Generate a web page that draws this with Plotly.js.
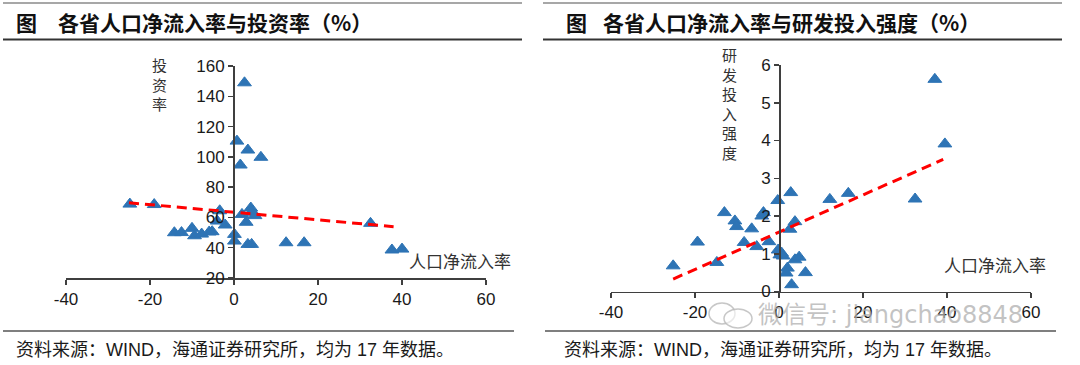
<!DOCTYPE html>
<html>
<head>
<meta charset="utf-8">
<script src="https://cdn.plot.ly/plotly-3.0.1.min.js"></script>
<style>
html,body{margin:0;padding:0;background:#fff;}
#chart{width:1080px;height:365px;}
</style>
</head>
<body>
<div id="chart"></div>
<script>
// ---------- data ----------
const leftTitle = "各省人口净流入率与投资率（%）";
const rightTitle = "各省人口净流入率与研发投入强度（%）";
const footnote = "资料来源：WIND，海通证券研究所，均为 17 年数据。";
const xLabel = "人口净流入率";
const leftYLabel = ["投", "资", "率"];
const rightYLabel = ["研", "发", "投", "入", "强", "度"];

// net inflow rate vs investment rate
const invX = [-24.8, -19, -14.2, -12.5, -10, -9.4, -7.7, -5.9, -5.2, -4, -3.4, -2.1, 0.1, 0.1, 0.7, 1.5, 2.5, 3.3, 6.4, 1.9, 2.9, 4, 4.2, 5, 3.3, 4.2, 12.4, 16.7, 32.5, 37.6, 40];
const invY = [68.8, 68.5, 49.9, 50, 52.8, 47.9, 49, 50.4, 50.6, 57.6, 64.4, 55, 48.8, 44.4, 110.4, 94.6, 148.9, 104.5, 99.7, 62, 56.8, 66.2, 63.4, 61.2, 42.2, 42.2, 43.3, 43.3, 56.1, 38.5, 39.1];
const invTrendX = [-25, 38];
const invTrendY = [69.7, 53.9];

// net inflow rate vs R&D intensity
const rdX = [-25.2, -19.4, -14.8, -13, -10.5, -10.1, -8.3, -6.5, -5.3, -4.1, -3.7, -2.4, -0.3, -0.2, 0.2, 0.6, 1, 2, 1.7, 3, 3.8, 4.8, 6.3, 2.6, 3.8, 2.8, 12.1, 16.5, 32.4, 37.1, 39.5];
const rdY = [0.68, 1.31, 0.77, 2.09, 1.87, 1.72, 1.3, 1.66, 1.19, 2.0, 2.09, 1.32, 2.41, 1.1, 0.97, 1.02, 0.94, 0.62, 0.49, 0.18, 0.84, 0.91, 0.5, 1.65, 1.85, 2.62, 2.44, 2.6, 2.45, 5.62, 3.91];
const rdTrendX = [-25.2, 39.1];
const rdTrendY = [0.33, 3.5];

const xTicks = [-40, -20, 0, 20, 40, 60];
const xTickText = ["-40", "-20", "0", "20", "40", "60"];
const invTicks = [20, 40, 60, 80, 100, 120, 140, 160];
const rdTicks = [0, 1, 2, 3, 4, 5, 6];

// ---------- layout helpers ----------
const W = 1080, H = 365;
const px = v => v / W;
const py = v => 1 - v / H;

const blue = "#2E74B5";
const axisCol = "#3f3f3f";
const cjk = "Noto Sans CJK SC, sans-serif";
const latin = "Liberation Sans, Arial, Noto Sans CJK SC, sans-serif";

const markerStyle = {symbol: "triangle-up", size: 12, color: blue, line: {color: blue, width: 1}};
const trendStyle = {color: "#FF0000", width: 3, dash: "10px,6px"};

const traces = [
  {x: invX, y: invY, xaxis: "x", yaxis: "y", type: "scatter", mode: "markers", marker: markerStyle},
  {x: invTrendX, y: invTrendY, xaxis: "x", yaxis: "y", type: "scatter", mode: "lines", line: trendStyle},
  {x: rdX, y: rdY, xaxis: "x2", yaxis: "y2", type: "scatter", mode: "markers", marker: markerStyle},
  {x: rdTrendX, y: rdTrendY, xaxis: "x2", yaxis: "y2", type: "scatter", mode: "lines", line: trendStyle}
];

const axBase = {
  showgrid: false, zeroline: false, showline: true, linecolor: axisCol, linewidth: 1.5,
  ticks: "outside", ticklen: 5, tickwidth: 1.5, tickcolor: axisCol,
  tickfont: {family: latin, size: 17, color: "#1a1a1a"}, fixedrange: true
};

const layout = {
  width: W, height: H, autosize: false,
  margin: {l: 0, r: 0, t: 0, b: 0},
  paper_bgcolor: "#ffffff", plot_bgcolor: "rgba(0,0,0,0)",
  showlegend: false,
  xaxis: Object.assign({}, axBase, {domain: [px(66), px(486)], range: [-40, 60], tickvals: xTicks, ticktext: xTickText, anchor: "y"}),
  yaxis: Object.assign({}, axBase, {domain: [py(278), py(66)], range: [20, 160], tickvals: invTicks, anchor: "free", position: px(233)}),
  xaxis2: Object.assign({}, axBase, {domain: [px(611), px(1031)], range: [-40, 60], tickvals: xTicks, ticktext: xTickText, anchor: "y2"}),
  yaxis2: Object.assign({}, axBase, {domain: [py(291.5), py(65)], range: [0, 6], tickvals: rdTicks, anchor: "free", position: px(779)}),
  shapes: [
    // left panel rules
    {type: "line", xref: "paper", yref: "paper", x0: px(3), x1: px(522), y0: py(3), y1: py(3), line: {color: "#8a8a8a", width: 1.5}},
    {type: "line", xref: "paper", yref: "paper", x0: px(3), x1: px(522), y0: py(39.5), y1: py(39.5), line: {color: "#333333", width: 2}},
    {type: "line", xref: "paper", yref: "paper", x0: px(3), x1: px(514), y0: py(331), y1: py(331), line: {color: "#7f7f7f", width: 2}},
    // right panel rules
    {type: "line", xref: "paper", yref: "paper", x0: px(543), x1: px(1062), y0: py(3), y1: py(3), line: {color: "#8a8a8a", width: 1.5}},
    {type: "line", xref: "paper", yref: "paper", x0: px(543), x1: px(1062), y0: py(39.5), y1: py(39.5), line: {color: "#333333", width: 2}},
    {type: "line", xref: "paper", yref: "paper", x0: px(545), x1: px(1056), y0: py(331), y1: py(331), line: {color: "#7f7f7f", width: 2}},
    // watermark icon
    {type: "circle", xref: "paper", yref: "paper", x0: px(709), x1: px(735), y0: py(324), y1: py(303), line: {color: "rgba(185,185,185,0.8)", width: 1.5}},
    {type: "circle", xref: "paper", yref: "paper", x0: px(724), x1: px(752), y0: py(328), y1: py(309), line: {color: "rgba(185,185,185,0.8)", width: 1.5}, fillcolor: "rgba(255,255,255,0.6)"}
  ],
  annotations: [
    {xref: "paper", yref: "paper", x: px(14), y: py(21.5), xanchor: "left", yanchor: "middle", showarrow: false,
     text: "<b>图</b>", font: {family: cjk, size: 21, color: "#111"}},
    {xref: "paper", yref: "paper", x: px(56), y: py(21.5), xanchor: "left", yanchor: "middle", showarrow: false,
     text: "<b>" + leftTitle + "</b>", font: {family: cjk, size: 21, color: "#111"}},
    {xref: "paper", yref: "paper", x: px(564), y: py(21.5), xanchor: "left", yanchor: "middle", showarrow: false,
     text: "<b>图</b>", font: {family: cjk, size: 21, color: "#111"}},
    {xref: "paper", yref: "paper", x: px(601), y: py(21.5), xanchor: "left", yanchor: "middle", showarrow: false,
     text: "<b>" + rightTitle + "</b>", font: {family: cjk, size: 21, color: "#111"}},
    // footnotes
    {xref: "paper", yref: "paper", x: px(14), y: py(349.5), xanchor: "left", yanchor: "middle", showarrow: false,
     text: footnote, font: {family: latin, size: 18, color: "#1a1a1a"}},
    {xref: "paper", yref: "paper", x: px(562), y: py(349.5), xanchor: "left", yanchor: "middle", showarrow: false,
     text: footnote, font: {family: latin, size: 18, color: "#1a1a1a"}},
    // axis titles
    {xref: "paper", yref: "paper", x: px(159), y: py(84), xanchor: "center", yanchor: "middle", showarrow: false,
     text: leftYLabel.join("<br>"), font: {family: cjk, size: 15, color: "#333"}},
    {xref: "paper", yref: "paper", x: px(460), y: py(260), xanchor: "center", yanchor: "middle", showarrow: false,
     text: xLabel, font: {family: cjk, size: 17, color: "#333"}},
    {xref: "paper", yref: "paper", x: px(729), y: py(104), xanchor: "center", yanchor: "middle", showarrow: false,
     text: rightYLabel.join("<br>"), font: {family: cjk, size: 15, color: "#333"}},
    {xref: "paper", yref: "paper", x: px(995), y: py(264), xanchor: "center", yanchor: "middle", showarrow: false,
     text: xLabel, font: {family: cjk, size: 17, color: "#333"}},
    // watermark
    {xref: "paper", yref: "paper", x: px(756), y: py(315), xanchor: "left", yanchor: "middle", showarrow: false,
     text: "微信号: jiangchao8848", font: {family: "DejaVu Sans, Noto Sans CJK SC, sans-serif", size: 24, color: "rgba(175,175,175,0.75)"}}
  ]
};

Plotly.newPlot("chart", traces, layout, {displayModeBar: false, staticPlot: true});
</script>
</body>
</html>
